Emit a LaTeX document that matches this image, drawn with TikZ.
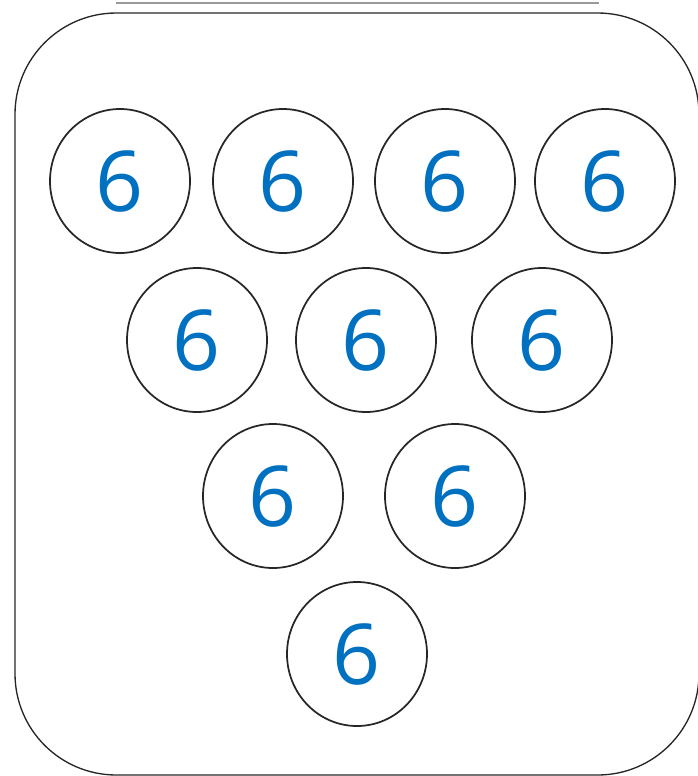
\documentclass[tikz,border=0pt]{standalone}
\usepackage{fontspec}
\setmainfont{Open Sans}
\usepackage{xcolor}
\usetikzlibrary{shapes.geometric}
\definecolor{pinblue}{RGB}{0,112,192}
\tikzset{
	pin/.style={draw=black!85,line width=1.3pt,ellipse,minimum width=105pt,minimum height=108pt,inner sep=0pt,text=pinblue,font=\fontsize{63}{63}\selectfont},
}
\begin{document}
\begin{tikzpicture}[x=0.75pt,y=-0.75pt]
	\useasboundingbox (0,0) rectangle (698,776);
	\draw[black!40,line width=0.8pt] (116,3)--(599,3);
	\draw[black!85,line width=1pt,rounded corners=76pt] (15,13) rectangle (699,775);
	% first row
	\node[pin] (p1) at (120,181) {6};
	\node[pin] (p2) at (283,181) {6};
	\node[pin] (p3) at (445,181) {6};
	\node[pin] (p4) at (605,181) {6};
	% second row
	\node[pin] (p5) at (197,340) {6};
	\node[pin] (p6) at (366,340) {6};
	\node[pin] (p7) at (542,340) {6};
	% third row
	\node[pin] (p8) at (273,496) {6};
	\node[pin] (p9) at (455,496) {6};
	% last
	\node[pin] (p10) at (357,654) {6};
\end{tikzpicture}
\end{document}
